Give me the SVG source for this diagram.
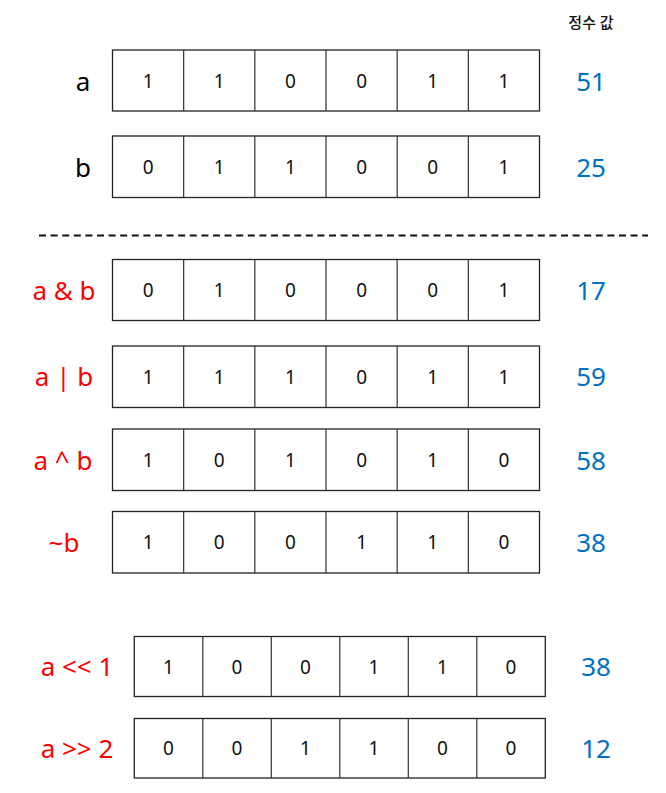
<svg xmlns="http://www.w3.org/2000/svg" width="666" height="793" viewBox="0 0 666 793">
<style>
text{font-family:"Noto Sans","Noto Sans CJK KR",sans-serif;text-anchor:middle}
.box{fill:#fff;stroke:#222;stroke-width:1.3}
.div{stroke:#333;stroke-width:1.2}
.bit{font-size:19px;fill:#111}
.lbl{font-size:26px;fill:#000}
.op{font-size:26px;fill:#ff0000}
.val{font-size:26px;fill:#0070c0}
.hdr{font-size:15px;fill:#111;font-weight:500}
</style>
<rect width="666" height="793" fill="#fff"/>
<text class="hdr" x="591" y="28">정수 값</text>
<g id="connectors">
<line x1="39" y1="235.5" x2="648" y2="235.5" stroke="#111" stroke-width="2" stroke-dasharray="7 4.6"/>
</g>
<g id="row-a">
<rect class="box" x="112.5" y="50" width="427" height="61"/>
<path class="div" d="M183.67 50V111M254.83 50V111M326 50V111M397.17 50V111M468.33 50V111"/>
<text class="bit" x="148.1" y="87.5">1</text><text class="bit" x="219.25" y="87.5">1</text><text class="bit" x="290.4" y="87.5">0</text><text class="bit" x="361.6" y="87.5">0</text><text class="bit" x="432.8" y="87.5">1</text><text class="bit" x="503.9" y="87.5">1</text>
<text class="lbl" x="83" y="90.5">a</text>
<text class="val" x="591" y="90.5">51</text>
</g>
<g id="row-b">
<rect class="box" x="112.5" y="136" width="427" height="61.5"/>
<path class="div" d="M183.67 136V197.5M254.83 136V197.5M326 136V197.5M397.17 136V197.5M468.33 136V197.5"/>
<text class="bit" x="148.1" y="173.5">0</text><text class="bit" x="219.25" y="173.5">1</text><text class="bit" x="290.4" y="173.5">1</text><text class="bit" x="361.6" y="173.5">0</text><text class="bit" x="432.8" y="173.5">0</text><text class="bit" x="503.9" y="173.5">1</text>
<text class="lbl" x="83" y="176.5">b</text>
<text class="val" x="591" y="176.5">25</text>
</g>
<g id="row-and">
<rect class="box" x="112.5" y="259.5" width="427" height="61"/>
<path class="div" d="M183.67 259.5V320.5M254.83 259.5V320.5M326 259.5V320.5M397.17 259.5V320.5M468.33 259.5V320.5"/>
<text class="bit" x="148.1" y="297">0</text><text class="bit" x="219.25" y="297">1</text><text class="bit" x="290.4" y="297">0</text><text class="bit" x="361.6" y="297">0</text><text class="bit" x="432.8" y="297">0</text><text class="bit" x="503.9" y="297">1</text>
<text class="op" x="64" y="299.5">a &amp; b</text>
<text class="val" x="591" y="299.5">17</text>
</g>
<g id="row-or">
<rect class="box" x="112.5" y="346" width="427" height="61.5"/>
<path class="div" d="M183.67 346V407.5M254.83 346V407.5M326 346V407.5M397.17 346V407.5M468.33 346V407.5"/>
<text class="bit" x="148.1" y="383.5">1</text><text class="bit" x="219.25" y="383.5">1</text><text class="bit" x="290.4" y="383.5">1</text><text class="bit" x="361.6" y="383.5">0</text><text class="bit" x="432.8" y="383.5">1</text><text class="bit" x="503.9" y="383.5">1</text>
<text class="op" x="64" y="386">a | b</text>
<text class="val" x="591" y="386">59</text>
</g>
<g id="row-xor">
<rect class="box" x="112.5" y="429" width="427" height="61.5"/>
<path class="div" d="M183.67 429V490.5M254.83 429V490.5M326 429V490.5M397.17 429V490.5M468.33 429V490.5"/>
<text class="bit" x="148.1" y="466.5">1</text><text class="bit" x="219.25" y="466.5">0</text><text class="bit" x="290.4" y="466.5">1</text><text class="bit" x="361.6" y="466.5">0</text><text class="bit" x="432.8" y="466.5">1</text><text class="bit" x="503.9" y="466.5">0</text>
<text class="op" x="63" y="469.5">a ^ b</text>
<text class="val" x="591" y="469.5">58</text>
</g>
<g id="row-not">
<rect class="box" x="112.5" y="511.5" width="427" height="61.5"/>
<path class="div" d="M183.67 511.5V573M254.83 511.5V573M326 511.5V573M397.17 511.5V573M468.33 511.5V573"/>
<text class="bit" x="148.1" y="549">1</text><text class="bit" x="219.25" y="549">0</text><text class="bit" x="290.4" y="549">0</text><text class="bit" x="361.6" y="549">1</text><text class="bit" x="432.8" y="549">1</text><text class="bit" x="503.9" y="549">0</text>
<text class="op" x="64" y="552">~b</text>
<text class="val" x="591" y="552">38</text>
</g>
<g id="row-shl">
<rect class="box" x="134.3" y="636.5" width="411" height="60"/>
<path class="div" d="M202.8 636.5V696.5M271.3 636.5V696.5M339.8 636.5V696.5M408.3 636.5V696.5M476.8 636.5V696.5"/>
<text class="bit" x="168.55" y="673.5">1</text><text class="bit" x="237.05" y="673.5">0</text><text class="bit" x="305.55" y="673.5">0</text><text class="bit" x="374.05" y="673.5">1</text><text class="bit" x="442.55" y="673.5">1</text><text class="bit" x="511.05" y="673.5">0</text>
<text class="op" x="77" y="676">a &lt;&lt; 1</text>
<text class="val" x="596" y="676">38</text>
</g>
<g id="row-shr">
<rect class="box" x="134.3" y="718.5" width="411" height="59.5"/>
<path class="div" d="M202.8 718.5V778M271.3 718.5V778M339.8 718.5V778M408.3 718.5V778M476.8 718.5V778"/>
<text class="bit" x="168.55" y="755">0</text><text class="bit" x="237.05" y="755">0</text><text class="bit" x="305.55" y="755">1</text><text class="bit" x="374.05" y="755">1</text><text class="bit" x="442.55" y="755">0</text><text class="bit" x="511.05" y="755">0</text>
<text class="op" x="77" y="757.5">a &gt;&gt; 2</text>
<text class="val" x="596" y="757.5">12</text>
</g>
</svg>
